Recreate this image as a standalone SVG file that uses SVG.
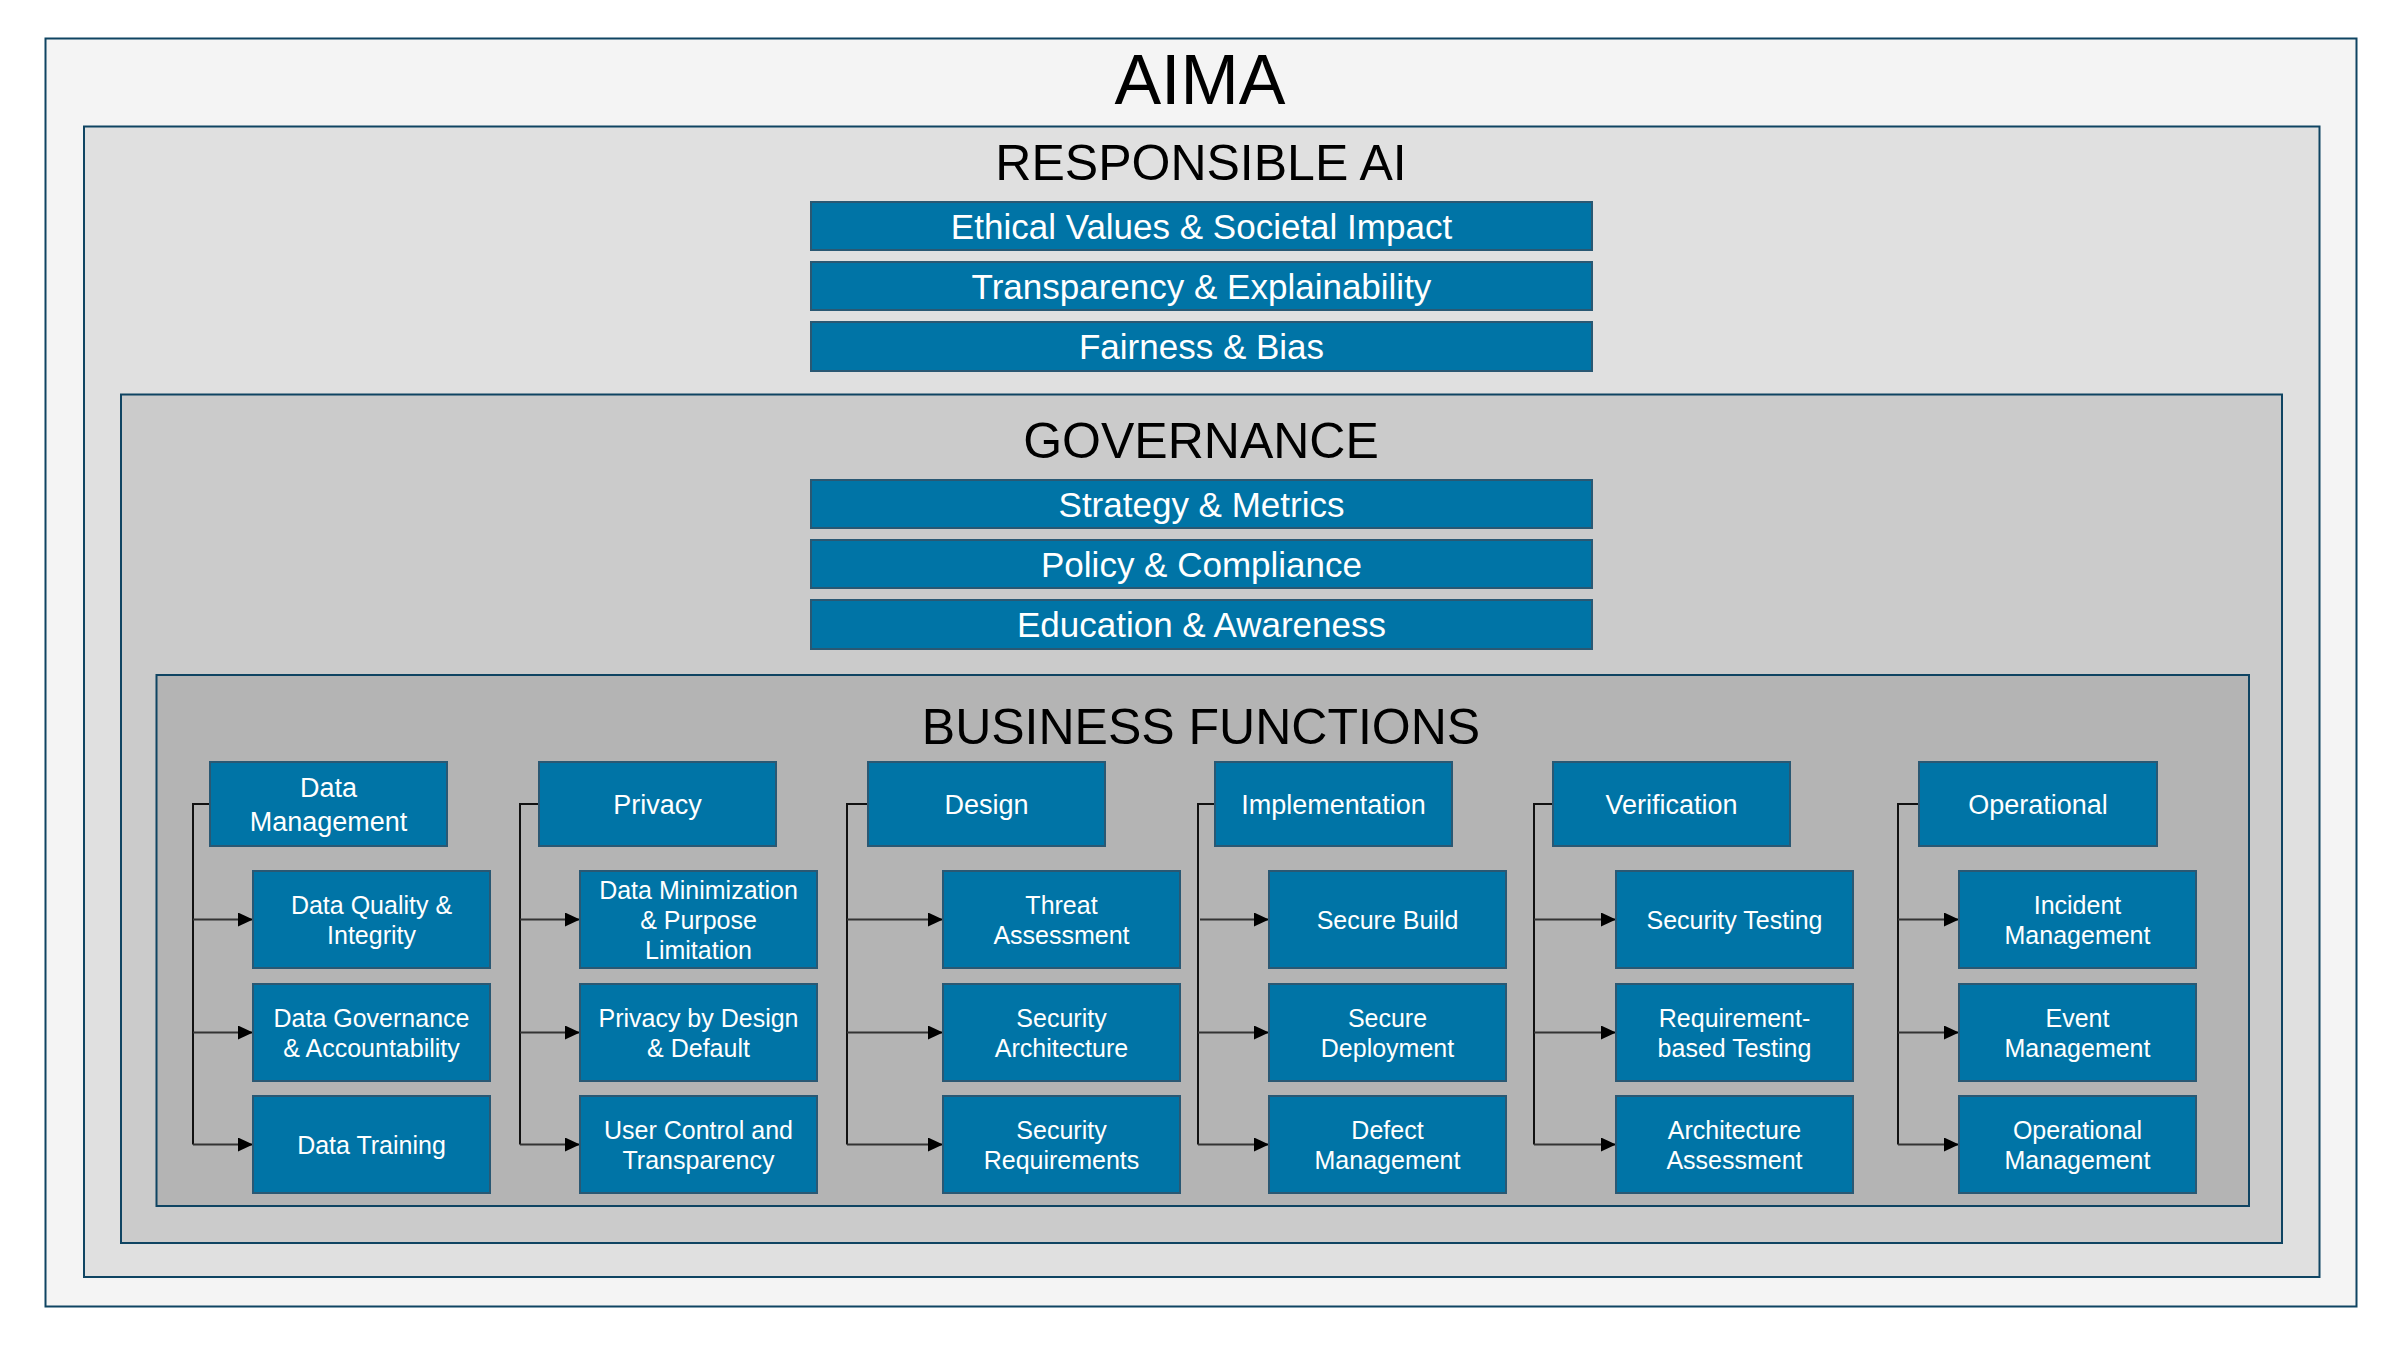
<svg xmlns="http://www.w3.org/2000/svg" width="2400" height="1350" viewBox="0 0 2400 1350">
<defs>
<style>
.frame{stroke:#0F4462;stroke-width:2}
.title{font-family:"Liberation Sans",Arial,sans-serif;fill:#000;text-anchor:middle}
.bar{fill:#0074A6;stroke:#2A5873;stroke-width:2}
.bart{font-family:"Liberation Sans",Arial,sans-serif;font-size:35px;fill:#fff;text-anchor:middle}
.node{fill:#0074A6;stroke:#2A5873;stroke-width:2}
.ht{font-family:"Liberation Sans",Arial,sans-serif;font-size:27px;fill:#fff;text-anchor:middle}
.ct{font-family:"Liberation Sans",Arial,sans-serif;font-size:25px;fill:#fff;text-anchor:middle}
.conn{fill:none;stroke:#111;stroke-width:2}
.arr{fill:none;stroke:#333;stroke-width:2;marker-end:url(#ah)}
</style>
<marker id="ah" markerUnits="userSpaceOnUse" markerWidth="16" markerHeight="16" refX="15" refY="7" orient="auto">
<path d="M0,0 L15,7 L0,14 Z" fill="#000"/>
</marker>
</defs>
<rect width="2400" height="1350" fill="#fff"/>
<g id="aima">
<rect class="frame" x="45.5" y="38.5" width="2311" height="1268" fill="#F4F4F4"/>
<text class="title" x="1200" y="104" font-size="70">AIMA</text>
</g>
<g id="responsible-ai">
<rect class="frame" x="84" y="126.5" width="2235.5" height="1150.5" fill="#E0E0E0"/>
<text class="title" x="1201" y="180" font-size="50">RESPONSIBLE AI</text>
<g id="ra-ethical"><rect class="bar" x="811" y="202" width="781" height="48"/><text class="bart" x="1201.5" y="238.5">Ethical Values &amp; Societal Impact</text></g>
<g id="ra-transparency"><rect class="bar" x="811" y="262" width="781" height="48"/><text class="bart" x="1201.5" y="298.5">Transparency &amp; Explainability</text></g>
<g id="ra-fairness"><rect class="bar" x="811" y="322" width="781" height="49"/><text class="bart" x="1201.5" y="359">Fairness &amp; Bias</text></g>
</g>
<g id="governance">
<rect class="frame" x="121" y="394.5" width="2161" height="848.5" fill="#CBCBCB"/>
<text class="title" x="1201" y="458" font-size="50">GOVERNANCE</text>
<g id="gov-strategy"><rect class="bar" x="811" y="480" width="781" height="48"/><text class="bart" x="1201.5" y="516.5">Strategy &amp; Metrics</text></g>
<g id="gov-policy"><rect class="bar" x="811" y="540" width="781" height="48"/><text class="bart" x="1201.5" y="576.5">Policy &amp; Compliance</text></g>
<g id="gov-education"><rect class="bar" x="811" y="600" width="781" height="49"/><text class="bart" x="1201.5" y="637">Education &amp; Awareness</text></g>
</g>
<g id="business-functions">
<rect class="frame" x="156.5" y="675" width="2092.5" height="531" fill="#B4B4B4"/>
<text class="title" x="1201" y="744" font-size="50">BUSINESS FUNCTIONS</text>
</g>
<g id="connectors">
<path class="conn" d="M210,804 H193 V1144.5"/>
<path class="arr" d="M193,919.5 H253"/><path class="arr" d="M193,1032.5 H253"/><path class="arr" d="M193,1144.5 H253"/>
<path class="conn" d="M539,804 H520 V1144.5"/>
<path class="arr" d="M520,919.5 H580"/><path class="arr" d="M520,1032.5 H580"/><path class="arr" d="M520,1144.5 H580"/>
<path class="conn" d="M868,804 H847 V1144.5"/>
<path class="arr" d="M847,919.5 H943"/><path class="arr" d="M847,1032.5 H943"/><path class="arr" d="M847,1144.5 H943"/>
<path class="conn" d="M1215,804 H1198 V1144.5"/>
<path class="arr" d="M1200,919.5 H1269"/><path class="arr" d="M1198,1032.5 H1269"/><path class="arr" d="M1198,1144.5 H1269"/>
<path class="conn" d="M1553,804 H1534 V1144.5"/>
<path class="arr" d="M1534,919.5 H1616"/><path class="arr" d="M1534,1032.5 H1616"/><path class="arr" d="M1534,1144.5 H1616"/>
<path class="conn" d="M1919,804 H1898 V1144.5"/>
<path class="arr" d="M1898,919.5 H1959"/><path class="arr" d="M1898,1032.5 H1959"/><path class="arr" d="M1898,1144.5 H1959"/>
</g>
<g id="data-management"><rect class="node" x="210" y="762" width="237" height="84"/><text class="ht" x="328.5" y="797">Data</text><text class="ht" x="328.5" y="831">Management</text></g>
<g id="data-quality"><rect class="node" x="253" y="871" width="237" height="97"/><text class="ct" x="371.5" y="913.5">Data Quality &amp;</text><text class="ct" x="371.5" y="943.5">Integrity</text></g>
<g id="data-governance"><rect class="node" x="253" y="984" width="237" height="97"/><text class="ct" x="371.5" y="1026.5">Data Governance</text><text class="ct" x="371.5" y="1056.5">&amp; Accountability</text></g>
<g id="data-training"><rect class="node" x="253" y="1096" width="237" height="97"/><text class="ct" x="371.5" y="1153.5">Data Training</text></g>
<g id="privacy"><rect class="node" x="539" y="762" width="237" height="84"/><text class="ht" x="657.5" y="814">Privacy</text></g>
<g id="data-minimization"><rect class="node" x="580" y="871" width="237" height="97"/><text class="ct" x="698.5" y="898.5">Data Minimization</text><text class="ct" x="698.5" y="928.5">&amp; Purpose</text><text class="ct" x="698.5" y="958.5">Limitation</text></g>
<g id="privacy-by-design"><rect class="node" x="580" y="984" width="237" height="97"/><text class="ct" x="698.5" y="1026.5">Privacy by Design</text><text class="ct" x="698.5" y="1056.5">&amp; Default</text></g>
<g id="user-control"><rect class="node" x="580" y="1096" width="237" height="97"/><text class="ct" x="698.5" y="1138.5">User Control and</text><text class="ct" x="698.5" y="1168.5">Transparency</text></g>
<g id="design"><rect class="node" x="868" y="762" width="237" height="84"/><text class="ht" x="986.5" y="814">Design</text></g>
<g id="threat-assessment"><rect class="node" x="943" y="871" width="237" height="97"/><text class="ct" x="1061.5" y="913.5">Threat</text><text class="ct" x="1061.5" y="943.5">Assessment</text></g>
<g id="security-architecture"><rect class="node" x="943" y="984" width="237" height="97"/><text class="ct" x="1061.5" y="1026.5">Security</text><text class="ct" x="1061.5" y="1056.5">Architecture</text></g>
<g id="security-requirements"><rect class="node" x="943" y="1096" width="237" height="97"/><text class="ct" x="1061.5" y="1138.5">Security</text><text class="ct" x="1061.5" y="1168.5">Requirements</text></g>
<g id="implementation"><rect class="node" x="1215" y="762" width="237" height="84"/><text class="ht" x="1333.5" y="814">Implementation</text></g>
<g id="secure-build"><rect class="node" x="1269" y="871" width="237" height="97"/><text class="ct" x="1387.5" y="928.5">Secure Build</text></g>
<g id="secure-deployment"><rect class="node" x="1269" y="984" width="237" height="97"/><text class="ct" x="1387.5" y="1026.5">Secure</text><text class="ct" x="1387.5" y="1056.5">Deployment</text></g>
<g id="defect-management"><rect class="node" x="1269" y="1096" width="237" height="97"/><text class="ct" x="1387.5" y="1138.5">Defect</text><text class="ct" x="1387.5" y="1168.5">Management</text></g>
<g id="verification"><rect class="node" x="1553" y="762" width="237" height="84"/><text class="ht" x="1671.5" y="814">Verification</text></g>
<g id="security-testing"><rect class="node" x="1616" y="871" width="237" height="97"/><text class="ct" x="1734.5" y="928.5">Security Testing</text></g>
<g id="requirement-based-testing"><rect class="node" x="1616" y="984" width="237" height="97"/><text class="ct" x="1734.5" y="1026.5">Requirement-</text><text class="ct" x="1734.5" y="1056.5">based Testing</text></g>
<g id="architecture-assessment"><rect class="node" x="1616" y="1096" width="237" height="97"/><text class="ct" x="1734.5" y="1138.5">Architecture</text><text class="ct" x="1734.5" y="1168.5">Assessment</text></g>
<g id="operational"><rect class="node" x="1919" y="762" width="238" height="84"/><text class="ht" x="2038" y="814">Operational</text></g>
<g id="incident-management"><rect class="node" x="1959" y="871" width="237" height="97"/><text class="ct" x="2077.5" y="913.5">Incident</text><text class="ct" x="2077.5" y="943.5">Management</text></g>
<g id="event-management"><rect class="node" x="1959" y="984" width="237" height="97"/><text class="ct" x="2077.5" y="1026.5">Event</text><text class="ct" x="2077.5" y="1056.5">Management</text></g>
<g id="operational-management"><rect class="node" x="1959" y="1096" width="237" height="97"/><text class="ct" x="2077.5" y="1138.5">Operational</text><text class="ct" x="2077.5" y="1168.5">Management</text></g>
</svg>
